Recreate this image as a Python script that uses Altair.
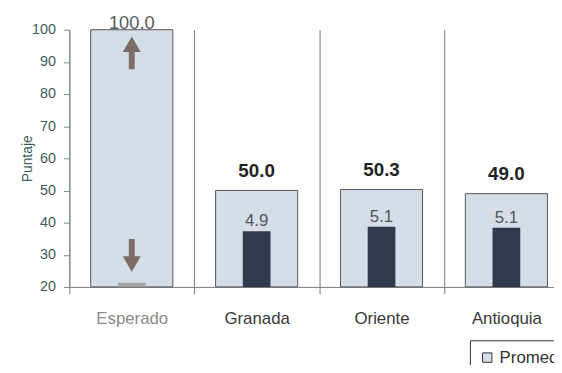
import altair as alt
import pandas as pd

categorias = ["Esperado", "Granada", "Oriente", "Antioquia"]
promedio = [100.0, 50.0, 50.3, 49.0]
barra_interna = [21.3, 37.3, 38.7, 38.4]
desviacion = ["", "4.9", "5.1", "5.1"]
base = [20, 20, 20, 20]
flechas_valor = [92.8, 29.8]
flechas_dir = ["arriba", "abajo"]

df = pd.DataFrame({
    "cat": categorias,
    "prom": promedio,
    "interna": barra_interna,
    "desv": desviacion,
    "base": base,
    "serie": ["Promedio"] * len(categorias),
    "prom_lbl": [f"{v:.1f}" for v in promedio],
})
df_fl = pd.DataFrame({"cat": ["Esperado"] * 2, "v": flechas_valor, "dir": flechas_dir})

FONT = "Liberation Sans"

x = alt.X(
    "cat:N",
    sort=categorias,
    scale=alt.Scale(range=[0, 505], paddingInner=0, paddingOuter=0),
    axis=alt.Axis(
        title=None, labelAngle=0, grid=True, tickBand="extent",
        gridColor="#7a7a7a", gridWidth=1, tickColor="#7a7a7a", tickSize=7,
        domainColor="#7a7a7a", labelFont=FONT, labelFontSize=17,
        labelColor=alt.condition("datum.value == 'Esperado'", alt.value("#8a8a8a"), alt.value("#383838")),
        labelPadding=17,
    ),
)

y_scale = alt.Scale(domain=[20, 100], zero=False, nice=False)
y_axis = alt.Axis(
    title="Puntaje", values=list(range(20, 101, 10)), grid=False,
    tickSize=6, tickColor="#6d8f8f", domainColor="#6d8f8f",
    labelFont=FONT, labelFontSize=14.5, labelColor="#3d5c5c", labelPadding=8,
    titleFont=FONT, titleFontSize=14, titleFontWeight="normal", titleColor="#3d5c5c",
    titlePadding=-3,
)


def yenc(field):
    return alt.Y(field, scale=y_scale, axis=y_axis)


wide = alt.Chart(df).mark_bar(width=83, stroke="#555555", strokeWidth=1).encode(
    x=x, y=yenc("prom:Q"), y2="base:Q",
    color=alt.Color(
        "serie:N",
        scale=alt.Scale(domain=["Promedio"], range=["#d3dee9"]),
        legend=alt.Legend(
            title=None, orient="none", legendX=405, legendY=314,
            strokeColor="#333333", fillColor="white", padding=9,
            symbolType="square", symbolSize=90, symbolStrokeColor="#333333",
            symbolStrokeWidth=1, labelFont=FONT, labelFontSize=17, labelColor="#333333",
            labelOffset=4,
        ),
    ),
)

inner = alt.Chart(df).mark_bar(width=28).encode(
    x=x,
    y=yenc("interna:Q"),
    y2="base:Q",
    fill=alt.condition("datum.cat == 'Esperado'", alt.value("#a5a5a5"), alt.value("#2f3b4d")),
)

bold_lbl = alt.Chart(df).transform_filter("datum.cat != 'Esperado'").mark_text(
    dy=-14, baseline="alphabetic", font=FONT, fontSize=19, fontWeight="bold", color="#222222"
).encode(x=x, y=yenc("prom:Q"), text="prom_lbl:N")

esp_lbl = alt.Chart(df).transform_filter("datum.cat == 'Esperado'").mark_text(
    dy=-1, baseline="alphabetic", font=FONT, fontSize=18.5, color="#5a5a5a"
).encode(x=x, y=yenc("prom:Q"), text="prom_lbl:N")

desv_lbl = alt.Chart(df).transform_filter("datum.cat != 'Esperado'").mark_text(
    dy=-5, baseline="alphabetic", font=FONT, fontSize=17, color="#555555"
).encode(x=x, y=yenc("interna:Q"), text="desv:N")

up_path = "M0,-1L0.55,-0.05L0.18,-0.05L0.18,1L-0.18,1L-0.18,-0.05L-0.55,-0.05Z"
down_path = "M0,1L0.55,0.05L0.18,0.05L0.18,-1L-0.18,-1L-0.18,0.05L-0.55,0.05Z"

arrow_up = alt.Chart(df_fl).transform_filter("datum.dir == 'arriba'").mark_point(
    shape=up_path, size=1089, filled=True, color="#7d6b66", opacity=1
).encode(x=x, y=yenc("v:Q"))

arrow_down = alt.Chart(df_fl).transform_filter("datum.dir == 'abajo'").mark_point(
    shape=down_path, size=1089, filled=True, color="#7d6b66", opacity=1
).encode(x=x, y=yenc("v:Q"))

chart = alt.layer(wide, inner, bold_lbl, esp_lbl, desv_lbl, arrow_up, arrow_down).properties(
    width=490, height=260,
    autosize=alt.AutoSizeParams(type="none"),
    padding={"left": 62, "top": 20, "right": 0, "bottom": 77},
    background="white",
).configure_view(stroke=None).configure_axisY(
    titleFontSize=14, titleFont=FONT, titleFontWeight="normal", titleColor="#3d5c5c"
)

chart.save("out.html", embed_options={"renderer": "svg", "actions": False})
